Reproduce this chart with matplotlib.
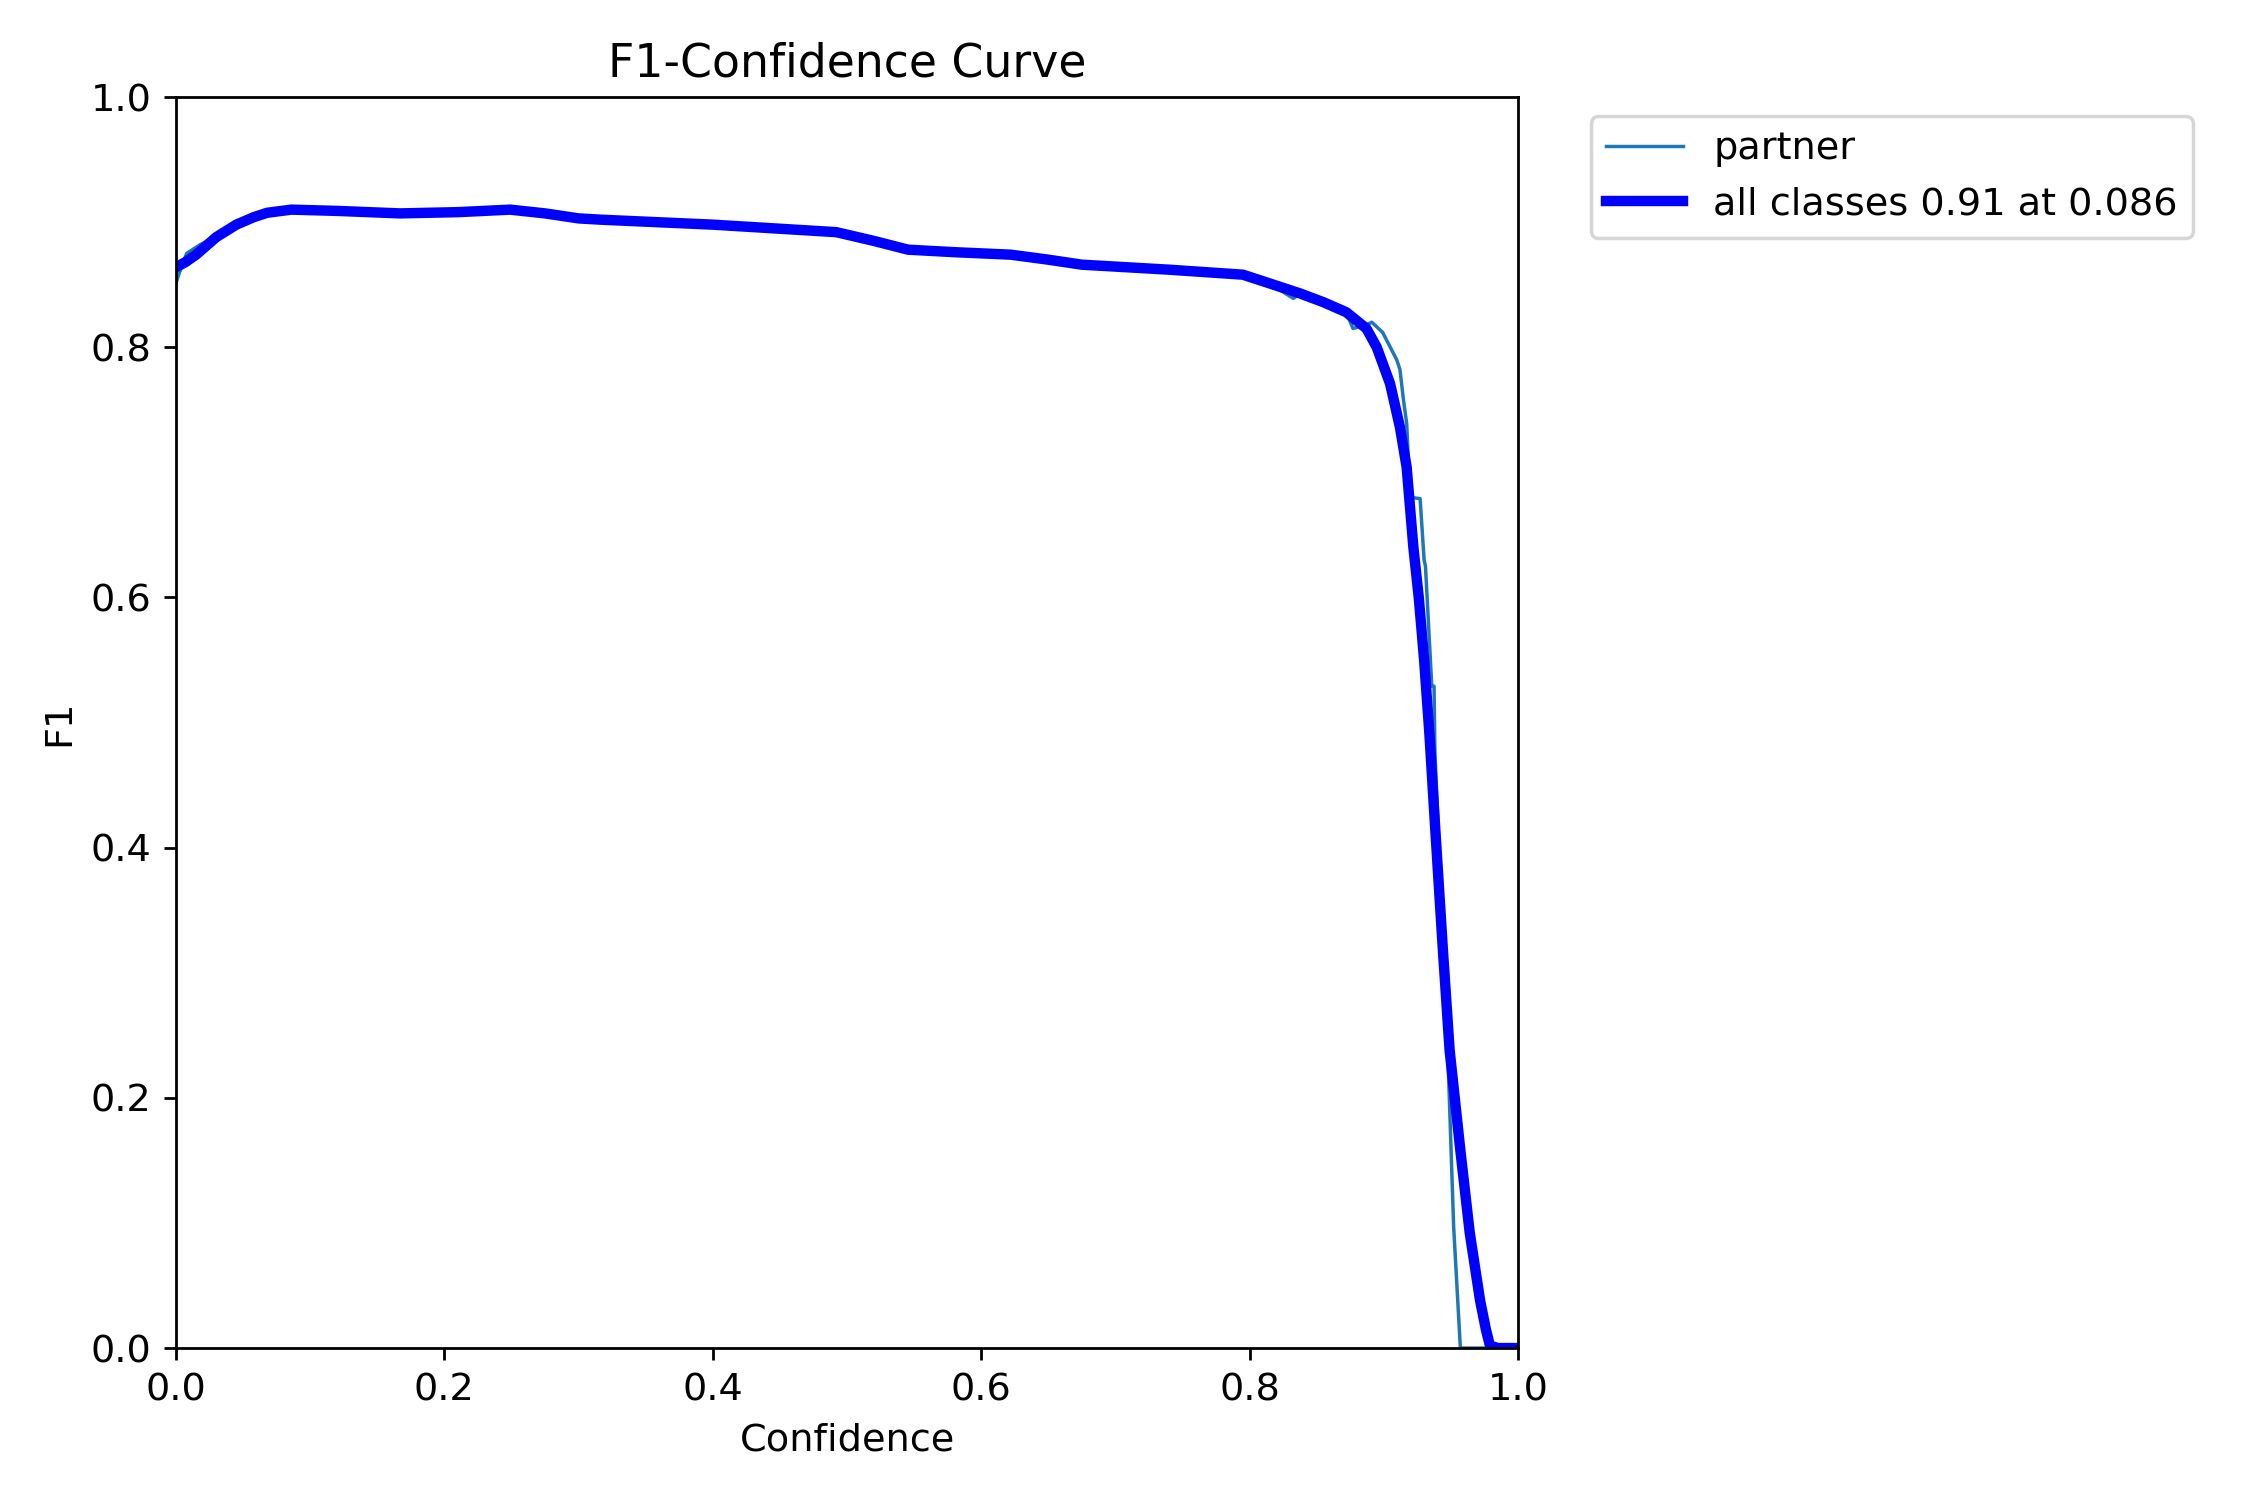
import matplotlib
matplotlib.use("Agg")
import matplotlib.pyplot as plt
import numpy as np

plt.rc("font", size=11)

# confidence / F1 values
conf_all = [0.0, 0.007, 0.015, 0.030, 0.045, 0.058, 0.068, 0.086, 0.12, 0.167, 0.21,
            0.249, 0.275, 0.300, 0.316, 0.40, 0.492, 0.52, 0.5455, 0.58, 0.622,
            0.65, 0.675, 0.74, 0.795, 0.815, 0.8376, 0.855, 0.872, 0.887, 0.8947,
            0.9046, 0.912, 0.917, 0.922, 0.926, 0.930, 0.934, 0.938, 0.944, 0.949,
            0.957, 0.964, 0.9717, 0.976, 0.979, 0.985, 1.0]
f1_all = [0.864, 0.868, 0.874, 0.888, 0.898, 0.904, 0.9075, 0.910, 0.909, 0.907, 0.908,
          0.910, 0.907, 0.903, 0.902, 0.898, 0.892, 0.885, 0.878, 0.876, 0.874,
          0.870, 0.866, 0.862, 0.858, 0.851, 0.843, 0.836, 0.828, 0.815, 0.800,
          0.771, 0.736, 0.704, 0.640, 0.600, 0.550, 0.490, 0.420, 0.318, 0.238,
          0.158, 0.092, 0.038, 0.015, 0.002, 0.0, 0.0]

conf_partner = [0.0, 0.002, 0.008, 0.018, 0.030, 0.045, 0.058, 0.068, 0.086, 0.12,
                0.167, 0.21, 0.249, 0.275, 0.300, 0.316, 0.40, 0.492, 0.52, 0.5455,
                0.58, 0.622, 0.65, 0.675, 0.74, 0.795, 0.815, 0.8326, 0.8376, 0.855,
                0.872, 0.877, 0.887, 0.891, 0.899, 0.9096, 0.912, 0.9146, 0.917,
                0.9195, 0.927, 0.9295, 0.930, 0.931, 0.9357, 0.9374, 0.938, 0.948,
                0.952, 0.957, 1.0]
f1_partner = [0.851, 0.858, 0.875, 0.882, 0.888, 0.898, 0.904, 0.9075, 0.910, 0.909,
              0.907, 0.908, 0.910, 0.907, 0.903, 0.902, 0.898, 0.892, 0.885, 0.878,
              0.876, 0.874, 0.870, 0.866, 0.862, 0.858, 0.851, 0.839, 0.843, 0.836,
              0.828, 0.815, 0.818, 0.820, 0.812, 0.790, 0.782, 0.758, 0.739,
              0.680, 0.679, 0.638, 0.630, 0.625, 0.529, 0.529, 0.478, 0.225,
              0.097, 0.0, 0.0]

fig, ax = plt.subplots(1, 1, figsize=(9, 6), dpi=250)
ax.plot(conf_partner, f1_partner, linewidth=1, color="#1f77b4", label="partner")
ax.plot(conf_all, f1_all, linewidth=3, color="blue", label="all classes 0.91 at 0.086")

ax.set_xlabel("Confidence")
ax.set_ylabel("F1")
ax.set_xlim(0, 1)
ax.set_ylim(0, 1)
ax.set_title("F1-Confidence Curve")
ax.legend(bbox_to_anchor=(1.04, 1), loc="upper left")

fig.subplots_adjust(left=0.0782, right=0.6747, bottom=0.1013, top=0.9353)
fig.savefig("out.png", dpi=250)
